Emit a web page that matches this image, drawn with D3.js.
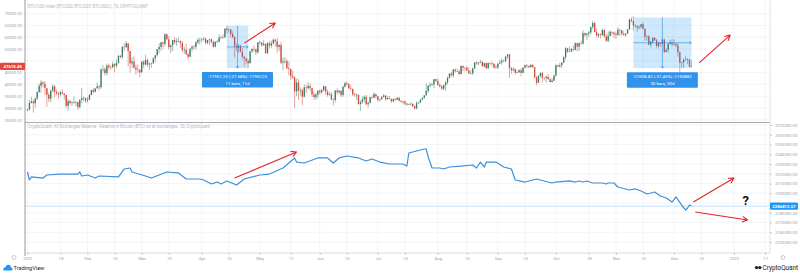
<!DOCTYPE html>
<html lang="en">
<head>
<meta charset="UTF-8">
<title>BTC price vs exchange reserve</title>
<style>
  body { margin: 0; background: #ffffff; }
  svg { display: block; font-family: Roboto, Arial, sans-serif; }
</style>
</head>
<body>
<svg id="chart" width="800" height="274"></svg>
<script src="https://d3js.org/d3.v7.min.js"></script>
<script>
  // daily candles from 2021-01-01, values in thousand USD (open = previous close)
  const candleStart = "2021-01-01";
  const firstOpen = 28.9;
  const closes = [
    29.4,32.1,32.8,32.0,34.0,36.8,39.4,40.8,40.3,38.4,35.6,33.9,37.3,39.2,36.8,36.2,35.8,36.6,36.0,35.5,30.9,32.9,32.1,32.3,32.3,32.5,30.4,33.4,34.3,34.3,33.1,
    33.5,35.5,37.6,36.9,38.3,39.2,38.8,46.4,46.4,44.8,48.0,47.3,47.2,48.6,47.9,49.1,52.1,51.6,55.9,55.8,57.4,54.1,48.9,49.7,47.1,46.3,46.1,45.1,
    49.6,48.4,50.3,48.4,48.8,48.9,51.0,52.4,54.9,55.9,57.8,57.2,61.2,59.1,55.8,56.6,58.8,57.9,58.3,58.3,57.5,54.5,54.7,52.8,51.7,55.1,56.0,55.9,57.8,58.9,58.9,
    59.1,59.4,57.6,58.8,59.1,58.0,56.0,58.1,58.1,59.8,60.0,59.9,63.6,63.0,63.2,61.3,60.0,56.2,55.6,56.4,53.8,51.7,51.1,50.0,49.0,54.0,55.0,54.8,53.6,57.8,
    57.8,56.6,57.2,53.2,57.5,56.4,57.4,58.9,58.3,55.9,56.7,49.2,49.7,49.9,46.8,46.5,43.5,42.9,37.0,40.8,37.3,37.5,34.8,38.7,38.4,39.3,38.4,35.7,34.6,35.7,37.3,
    36.7,37.6,39.2,36.9,35.5,35.8,33.6,33.4,37.4,36.7,37.3,35.5,39.0,40.5,40.1,38.3,38.1,35.8,35.5,35.6,31.7,32.5,33.7,34.7,31.6,32.2,34.6,34.4,35.9,35.0,
    33.5,33.8,34.7,35.3,33.7,34.2,33.9,32.9,33.8,33.5,34.3,33.1,32.7,32.8,31.9,31.4,31.5,31.8,30.8,29.8,32.1,32.3,33.6,34.3,35.4,37.2,39.5,40.0,40.0,42.2,41.5,
    39.8,39.1,38.2,39.7,40.9,42.8,44.6,43.8,46.3,45.6,45.5,44.4,47.8,47.1,47.0,45.9,44.7,44.7,46.8,49.3,48.9,49.3,49.5,47.7,49.0,46.9,49.1,48.9,48.8,47.0,47.2,
    48.8,49.3,50.0,49.9,51.8,52.7,46.9,46.0,46.4,44.9,45.2,46.0,44.9,47.1,48.1,47.7,47.3,48.3,47.3,43.0,40.7,43.6,44.9,42.8,42.7,43.2,42.2,41.0,41.6,43.8,
    48.1,47.6,48.2,49.2,51.5,55.3,53.8,54.0,55.0,54.7,57.5,56.0,57.4,57.3,61.7,60.9,61.5,62.0,64.3,66.0,62.2,60.7,61.3,60.9,63.1,60.3,58.5,60.6,62.3,61.9,61.3,
    60.9,63.2,62.9,61.4,60.9,61.5,63.3,67.5,66.9,64.9,64.8,64.1,64.4,65.5,63.6,60.2,60.4,56.9,58.1,59.7,58.7,56.3,57.6,57.2,59.0,53.7,54.7,57.3,57.8,57.0,
    57.2,56.5,53.6,49.2,49.4,50.4,50.6,50.5,47.5,47.6
  ];
  const highs = [
    29.6,33.3,34.8,33.6,34.4,36.9,40.4,41.9,41.4,41.4,38.3,36.6,37.8,40.1,39.7,37.9,36.9,37.3,37.9,36.4,35.6,33.8,33.5,32.9,34.9,32.9,32.6,33.8,38.5,34.9,34.3,
    34.7,35.9,37.7,38.7,38.3,40.9,39.7,46.8,48.2,47.3,48.6,48.9,48.1,49.7,49.0,50.6,52.6,52.5,56.4,57.5,58.4,57.5,54.2,51.4,52.0,48.4,48.4,46.6,
    49.8,50.2,52.6,51.0,49.4,49.2,51.5,52.4,54.9,57.4,58.1,58.0,61.8,61.6,60.6,56.9,58.9,60.0,59.5,59.9,58.6,58.4,55.8,57.2,53.2,55.5,56.6,56.6,58.4,59.4,59.8,
    59.5,60.0,59.8,58.9,59.3,59.5,58.7,58.2,58.9,61.2,60.7,61.2,63.8,64.9,63.8,63.6,62.5,60.4,57.5,57.1,56.8,55.4,52.1,51.2,50.6,54.4,55.5,56.4,55.2,57.9,
    58.5,57.9,58.9,57.2,57.9,58.4,58.6,59.5,59.3,59.6,56.9,58.0,51.4,51.6,50.7,49.8,46.6,45.8,43.5,42.5,42.2,38.8,38.3,39.9,39.8,40.9,40.4,38.0,37.2,36.4,37.5,
    37.9,38.2,39.5,39.3,37.9,36.8,36.8,34.1,37.5,38.4,37.7,37.4,39.4,41.1,41.3,40.5,39.6,38.2,36.5,36.1,35.7,33.3,34.9,35.3,35.5,32.7,34.7,35.3,36.7,36.0,
    35.0,33.9,35.0,35.9,35.3,35.0,35.1,33.9,34.1,34.3,34.6,34.7,33.3,33.1,33.2,32.2,31.9,32.4,31.9,31.0,32.9,32.6,33.6,34.5,35.4,40.6,39.5,40.9,40.6,42.3,42.3,
    42.6,40.4,39.7,39.9,41.4,43.4,44.7,45.3,46.5,46.7,46.8,46.2,48.1,48.0,47.4,48.0,47.2,46.0,47.1,49.4,49.8,49.5,50.5,49.9,49.2,49.4,49.2,49.3,49.7,48.9,48.3,
    48.9,50.4,51.0,50.6,51.9,52.9,52.9,47.4,47.3,47.0,45.9,46.5,46.9,47.3,48.5,48.5,48.2,48.8,48.4,47.3,43.6,44.0,45.0,45.2,42.8,43.9,44.4,42.8,42.6,44.1,
    48.5,48.3,49.2,49.5,51.9,55.8,55.4,56.1,55.5,56.5,57.8,57.7,57.8,58.5,62.9,62.0,61.7,62.7,64.5,67.0,66.6,63.7,61.7,61.5,63.7,63.3,61.5,62.5,62.9,62.3,62.4,
    62.4,64.3,63.5,63.1,62.6,61.6,63.3,67.8,68.5,69.0,65.6,65.0,65.0,65.5,66.4,63.6,60.8,60.9,58.4,59.9,60.0,59.3,58.0,57.8,59.4,59.3,55.3,57.4,58.9,59.2,
    59.1,57.4,57.6,53.9,49.7,51.0,51.9,51.2,50.8,50.1
  ];
  const lows = [
    28.8,29.0,32.0,28.1,30.2,33.4,36.3,36.5,38.7,35.6,30.4,32.5,32.4,36.7,34.4,35.4,33.9,34.8,35.8,33.4,30.1,28.9,31.4,30.9,31.9,30.8,29.2,29.8,31.9,32.8,32.2,
    32.3,33.4,35.4,36.2,36.6,38.2,37.4,38.1,45.0,43.7,43.9,46.3,46.2,47.0,45.0,47.0,48.9,50.9,50.7,54.0,55.5,47.6,45.0,47.0,46.7,44.1,45.0,43.0,
    45.0,47.0,48.1,47.5,46.3,47.1,48.9,49.3,51.8,53.1,54.3,55.0,56.1,58.9,54.7,53.3,54.1,57.0,56.3,57.8,55.5,53.7,53.0,52.5,50.4,51.7,53.9,54.7,54.9,57.1,56.9,
    57.9,58.5,57.0,57.0,56.8,57.3,55.5,55.7,57.6,57.9,59.3,59.4,59.8,61.3,62.0,60.0,59.6,51.3,54.2,53.4,53.6,50.6,47.5,48.8,47.0,48.8,53.3,53.9,52.3,53.1,
    57.0,56.0,56.5,53.0,52.9,55.2,55.5,56.9,56.2,53.4,54.2,48.6,46.0,48.8,46.6,43.8,42.0,42.3,30.0,35.0,33.5,35.3,31.1,34.4,36.4,37.8,37.2,34.7,33.6,33.4,34.2,
    35.7,36.0,37.2,35.6,34.8,35.3,33.3,31.0,32.4,35.8,35.9,34.6,34.8,38.7,39.5,38.1,37.4,35.1,34.8,33.3,31.3,28.8,31.7,32.3,31.3,30.2,32.0,33.9,34.2,34.0,
    32.7,32.7,33.3,34.5,33.1,33.5,33.8,32.1,32.3,33.0,33.3,32.7,32.2,31.6,31.1,31.0,31.2,31.1,30.4,29.3,29.5,31.7,32.0,33.4,33.9,35.2,36.4,38.8,39.3,38.3,41.1,
    39.4,38.7,37.6,37.5,37.3,39.9,42.4,43.3,42.8,45.0,45.3,43.8,44.2,45.6,45.5,45.7,44.4,44.2,43.9,46.6,48.3,48.1,49.0,47.6,47.2,46.3,46.4,48.4,47.8,46.9,46.7,
    46.5,48.6,48.4,49.5,49.4,50.9,42.8,44.4,45.5,44.2,44.8,44.7,43.4,44.8,46.7,47.0,46.8,47.1,47.0,42.5,39.6,40.6,43.1,40.7,41.7,40.8,42.1,40.9,40.8,41.4,
    43.3,47.4,47.1,46.9,49.1,50.4,53.4,53.6,53.7,54.1,54.4,54.0,54.2,56.8,56.9,60.1,58.9,60.1,61.3,63.5,62.0,60.0,59.7,59.5,60.7,59.8,58.0,57.8,60.2,60.7,59.5,
    59.4,60.6,60.4,60.7,60.7,60.0,61.4,63.1,66.2,62.8,64.1,62.3,63.3,63.6,63.4,58.6,58.4,56.5,55.6,57.4,58.5,55.6,55.3,55.9,57.0,53.3,53.7,53.3,56.7,55.9,
    56.5,55.8,51.7,42.0,47.1,47.0,50.0,48.6,47.3,47.3
  ];
  const priceTicks = [25000, 30000, 35000, 40000, 45000, 50000, 55000, 60000, 65000, 70000];
  const lastPrice = 47615.45;

  // all exchanges reserve (BTC), lower pane
  const reserveDates = [
    "2021-01-01","2021-01-02","2021-01-03","2021-01-09","2021-01-11","2021-01-18","2021-01-27","2021-01-28","2021-01-29",
    "2021-02-01","2021-02-05","2021-02-07","2021-02-17","2021-02-20","2021-02-23","2021-02-24",
    "2021-03-03","2021-03-06","2021-03-14","2021-03-20","2021-03-24","2021-03-31",
    "2021-04-02","2021-04-06","2021-04-09","2021-04-11","2021-04-14","2021-04-19","2021-04-23",
    "2021-05-01","2021-05-06","2021-05-13","2021-05-19","2021-05-20","2021-05-24","2021-05-31",
    "2021-06-05","2021-06-08","2021-06-11","2021-06-15","2021-06-21","2021-06-25","2021-06-28",
    "2021-07-02","2021-07-07","2021-07-14","2021-07-16","2021-07-17","2021-07-21","2021-07-25","2021-07-26","2021-07-27","2021-07-29",
    "2021-08-02","2021-08-04","2021-08-07","2021-08-13","2021-08-19","2021-08-21","2021-08-23","2021-08-25","2021-08-26","2021-08-31",
    "2021-09-04","2021-09-08","2021-09-10","2021-09-15","2021-09-21","2021-09-29",
    "2021-10-01","2021-10-08","2021-10-11","2021-10-13","2021-10-15","2021-10-17","2021-10-20","2021-10-25","2021-10-27","2021-10-28","2021-10-31",
    "2021-11-02","2021-11-06","2021-11-08","2021-11-11","2021-11-14","2021-11-17","2021-11-21","2021-11-24","2021-11-27","2021-11-30",
    "2021-12-02","2021-12-05","2021-12-07","2021-12-08","2021-12-09","2021-12-10"
  ];
  const reserveValues = [
    2321800,2313600,2316700,2315600,2318700,2319700,2319700,2321800,2317700,
    2318700,2315600,2317700,2316700,2324900,2325900,2321800,
    2317700,2315600,2321800,2320800,2314600,2314600,
    2313600,2309500,2311500,2309500,2312600,2308500,2314600,
    2318700,2319700,2325900,2336200,2332000,2331000,2336200,
    2336200,2331000,2336200,2338200,2336200,2333100,2335100,
    2332000,2330000,2330000,2327900,2341300,2343300,2345400,2345400,2337200,2325900,
    2325900,2324900,2326900,2327900,2329000,2325900,2332000,2326900,2332000,2332000,
    2326900,2324900,2313600,2311500,2314600,2310500,
    2311500,2312600,2311500,2312600,2311500,2312600,2310500,2310500,2309500,2310500,2310500,
    2306400,2304400,2303300,2304400,2302300,2299200,2301300,2297200,2295100,2291000,
    2296200,2287900,2282800,2284900,2288000,2286813.57
  ];
  const reserveTicks = [2250000, 2260000, 2270000, 2280000, 2290000, 2300000, 2310000,
                        2320000, 2330000, 2340000, 2350000, 2360000, 2370000];
  const lastReserve = 2286813.57;

  const timeTicks = ["2021-01-01","2021-01-18","2021-02-01","2021-02-15","2021-03-01","2021-03-15","2021-04-01","2021-04-15",
    "2021-05-01","2021-05-17","2021-06-01","2021-06-15","2021-07-01","2021-07-15","2021-08-01","2021-08-16",
    "2021-09-01","2021-09-15","2021-10-01","2021-10-18","2021-11-01","2021-11-15","2021-12-01","2021-12-15",
    "2022-01-01","2022-01-17"];
  const timeLabels = ["2021","18","Feb","15","Mar","15","Apr","15","May","17","Jun","15","Jul","15","Aug","16",
    "Sep","15","Oct","18","Nov","15","Dec","15","2022","17"];

  // measure tool boxes on the price pane
  const measureFrom = ["2021-04-14", "2021-11-10"];
  const measureTo = ["2021-04-25", "2021-12-10"];
  const measureHigh = [64854, 68390];
  const measureLow = [46903, 46881];
  const measureLine1 = ["-17951.23 (-27.68%) -1795123", "-21508.82 (-31.45%) -2150882"];
  const measureLine2 = ["11 bars, 11d", "30 bars, 30d"];

  // red hand-drawn arrows
  const arrowPane = ["price", "price", "reserve", "reserve", "reserve"];
  const arrowFromDate = ["2021-04-23", "2021-12-14", "2021-04-18", "2021-12-11", "2021-12-12"];
  const arrowFromValue = [57500, 49100, 2315600, 2291000, 2280800];
  const arrowToDate = ["2021-05-09", "2021-12-30", "2021-05-20", "2022-01-01", "2022-01-08"];
  const arrowToValue = [66000, 60900, 2342300, 2315600, 2272600];
  const questionDate = "2022-01-07";
  const questionValue = 2287500;

  const left = 25, right = 770, split = 122.5, bottom = 253;
  const svg = d3.select("#chart");

  const x = d3.scaleUtc()
    .domain([new Date("2021-01-01"), new Date("2022-01-01")])
    .range([27.5, 734]);
  const yPrice = d3.scaleLinear().domain([30000, 70000]).range([108, 13.6]);
  const yRes = d3.scaleLinear().domain([2290000, 2370000]).range([203, 125]);
  const fmt = d3.format(".2f");

  const defs = svg.append("defs");
  defs.append("clipPath").attr("id", "clipTop")
    .append("rect").attr("x", left).attr("y", 0).attr("width", right - left).attr("height", split);
  defs.append("clipPath").attr("id", "clipBottom")
    .append("rect").attr("x", left).attr("y", split).attr("width", right - left).attr("height", bottom - split);

  // grid
  const grid = svg.append("g").attr("stroke", "#eef0f4").attr("stroke-width", 0.7);
  timeTicks.forEach(d => {
    grid.append("line").attr("x1", x(new Date(d))).attr("x2", x(new Date(d)))
      .attr("y1", 0).attr("y2", bottom);
  });
  priceTicks.forEach(v => {
    grid.append("line").attr("x1", left).attr("x2", right).attr("y1", yPrice(v)).attr("y2", yPrice(v));
  });
  reserveTicks.forEach(v => {
    grid.append("line").attr("x1", left).attr("x2", right).attr("y1", yRes(v)).attr("y2", yRes(v));
  });

  // candles
  const start = new Date(candleStart);
  const candles = closes.map((c, i) => {
    const o = i === 0 ? firstOpen : closes[i - 1];
    return {
      date: d3.utcDay.offset(start, i), o: o * 1000, c: c * 1000,
      h: Math.max(highs[i], o, c) * 1000, l: Math.min(lows[i], o, c) * 1000
    };
  });
  const upColor = "#3a7d65", downColor = "#cf4a3f";
  const cg = svg.append("g").attr("clip-path", "url(#clipTop)");
  cg.selectAll("line.wick").data(candles).join("line")
    .attr("x1", d => x(d.date)).attr("x2", d => x(d.date))
    .attr("y1", d => yPrice(d.h)).attr("y2", d => yPrice(d.l))
    .attr("stroke", d => d.c >= d.o ? upColor : downColor).attr("stroke-width", 0.5);
  cg.selectAll("rect.body").data(candles).join("rect")
    .attr("x", d => x(d.date) - 0.65).attr("width", 1.3)
    .attr("y", d => yPrice(Math.max(d.o, d.c)))
    .attr("height", d => Math.max(0.5, Math.abs(yPrice(d.o) - yPrice(d.c))))
    .attr("fill", d => d.c >= d.o ? upColor : downColor);

  // measure boxes
  const mg = svg.append("g");
  measureFrom.forEach((d, i) => {
    const x0 = x(new Date(d)), x1 = x(new Date(measureTo[i]));
    const y0 = yPrice(measureHigh[i]), y1 = yPrice(measureLow[i]);
    const cx = (x0 + x1) / 2, cy = (y0 + y1) / 2;
    mg.append("rect").attr("x", x0).attr("y", y0).attr("width", x1 - x0).attr("height", y1 - y0)
      .attr("fill", "#2196f3").attr("fill-opacity", 0.22);
    const p = d3.path();
    p.moveTo(cx, y0); p.lineTo(cx, y1);
    p.moveTo(cx - 1.5, y1 - 2); p.lineTo(cx, y1); p.lineTo(cx + 1.5, y1 - 2);
    p.moveTo(x0, cy); p.lineTo(x1, cy);
    p.moveTo(x1 - 2, cy - 1.5); p.lineTo(x1, cy); p.lineTo(x1 - 2, cy + 1.5);
    mg.append("path").attr("d", p.toString()).attr("fill", "none")
      .attr("stroke", "#2a8ae6").attr("stroke-width", 0.6);
    const lw = 71, top = y1 + 4;
    mg.append("rect").attr("x", cx - lw / 2).attr("y", top).attr("width", lw).attr("height", 15.5)
      .attr("rx", 0.8).attr("fill", "#2f93ec");
    mg.append("text").attr("x", cx).attr("y", top + 6.2).attr("text-anchor", "middle")
      .attr("font-size", 4.4).attr("fill", "#fff").text(measureLine1[i]);
    mg.append("text").attr("x", cx).attr("y", top + 12.4).attr("text-anchor", "middle")
      .attr("font-size", 4.4).attr("fill", "#fff").text(measureLine2[i]);
  });

  // reserve line
  const lg = svg.append("g").attr("clip-path", "url(#clipBottom)");
  lg.append("line").attr("x1", left).attr("x2", right)
    .attr("y1", yRes(lastReserve)).attr("y2", yRes(lastReserve))
    .attr("stroke", "#a8d2f6").attr("stroke-width", 0.7);
  const line = d3.line().x((d, i) => x(new Date(reserveDates[i]))).y(d => yRes(d));
  lg.append("path").datum(reserveValues).attr("d", line).attr("fill", "none")
    .attr("stroke", "#3d8fdc").attr("stroke-width", 1.2).attr("stroke-linejoin", "round");

  // frame lines
  svg.append("line").attr("x1", left).attr("x2", right).attr("y1", split).attr("y2", split)
    .attr("stroke", "#a9acb3").attr("stroke-width", 1);
  svg.append("line").attr("x1", left).attr("x2", right).attr("y1", bottom).attr("y2", bottom)
    .attr("stroke", "#c9ccd2").attr("stroke-width", 0.7);
  svg.append("line").attr("x1", left).attr("x2", left).attr("y1", 0).attr("y2", bottom + 3)
    .attr("stroke", "#7b7e86").attr("stroke-width", 0.8);
  svg.append("line").attr("x1", right).attr("x2", right).attr("y1", 0).attr("y2", bottom)
    .attr("stroke", "#d3d5da").attr("stroke-width", 0.7);

  // axes (labels under a last-value badge are hidden, as on the original)
  const tickColor = "#9da1aa";
  const leftAxis = svg.append("g").attr("transform", `translate(${left - 3},0)`)
    .call(d3.axisLeft(yPrice).tickValues(priceTicks.filter(v => Math.abs(yPrice(v) - yPrice(lastPrice)) > 6))
      .tickFormat(fmt).tickSize(0).tickPadding(0));
  leftAxis.select(".domain").remove();
  leftAxis.selectAll("text").attr("font-size", 4.2).attr("fill", tickColor).attr("font-family", "Roboto, Arial, sans-serif");

  const rightAxis = svg.append("g").attr("transform", `translate(${right},0)`)
    .call(d3.axisRight(yRes).tickValues(reserveTicks).tickFormat(fmt).tickSize(2).tickPadding(3));
  rightAxis.select(".domain").remove();
  rightAxis.selectAll("line").attr("stroke", "#c4c7cd");
  rightAxis.selectAll("text").attr("font-size", 4.2).attr("fill", tickColor).attr("font-family", "Roboto, Arial, sans-serif");
  rightAxis.selectAll(".tick").filter(v => Math.abs(yRes(v) - yRes(lastReserve)) < 6).select("text").remove();

  const bottomAxis = svg.append("g").attr("transform", `translate(0,${bottom})`)
    .call(d3.axisBottom(x).tickValues(timeTicks.map(d => new Date(d)))
      .tickFormat((d, i) => timeLabels[i]).tickSize(1.5).tickPadding(2.5));
  bottomAxis.select(".domain").remove();
  bottomAxis.selectAll("line").attr("stroke", "#b5b8bf");
  bottomAxis.selectAll("text").attr("font-size", 4.2).attr("fill", tickColor).attr("font-family", "Roboto, Arial, sans-serif");

  // last value badges
  const yb = yPrice(lastPrice);
  svg.append("rect").attr("x", 0).attr("y", yb - 3.6).attr("width", left).attr("height", 7.2)
    .attr("rx", 1).attr("fill", "#e2493d");
  svg.append("text").attr("x", left - 3).attr("y", yb + 1.5).attr("text-anchor", "end")
    .attr("font-size", 4.3).attr("font-weight", "bold").attr("fill", "#fff").text(fmt(lastPrice));
  const yr = yRes(lastReserve);
  svg.append("rect").attr("x", right).attr("y", yr - 3.6).attr("width", 28).attr("height", 7.2)
    .attr("rx", 1).attr("fill", "#2196f3");
  svg.append("text").attr("x", right + 14).attr("y", yr + 1.5).attr("text-anchor", "middle")
    .attr("font-size", 4.3).attr("font-weight", "bold").attr("fill", "#fff").text(fmt(lastReserve));

  // pane titles
  svg.append("text").attr("x", 28).attr("y", 8).attr("font-size", 4.6).attr("fill", "#b4b7be")
    .attr("textLength", 120).attr("lengthAdjust", "spacingAndGlyphs")
    .text("BTC/USD Index (BTCUSD, BTCUSDT, BTCUSDC), 1D, CRYPTOQUANT");
  svg.append("text").attr("x", 28).attr("y", 128).attr("font-size", 4.6).attr("fill", "#b4b7be")
    .attr("textLength", 182).attr("lengthAdjust", "spacingAndGlyphs")
    .text("CryptoQuant: All Exchanges Reserve - Reserve in Bitcoin (BTC) on all exchanges, 1D, CryptoQuant");

  // red arrows
  const ag = svg.append("g");
  arrowPane.forEach((pane, i) => {
    const ys = pane === "price" ? yPrice : yRes;
    const x0 = x(new Date(arrowFromDate[i])), y0 = ys(arrowFromValue[i]);
    const x1 = x(new Date(arrowToDate[i])), y1 = ys(arrowToValue[i]);
    const a = Math.atan2(y1 - y0, x1 - x0), L = 6, s = 0.5;
    const p = d3.path();
    p.moveTo(x0, y0); p.lineTo(x1, y1);
    p.moveTo(x1 - L * Math.cos(a - s), y1 - L * Math.sin(a - s));
    p.lineTo(x1, y1);
    p.lineTo(x1 - L * Math.cos(a + s), y1 - L * Math.sin(a + s));
    ag.append("path").attr("d", p.toString()).attr("fill", "none")
      .attr("stroke", "#e5222b").attr("stroke-width", 1.1).attr("stroke-linejoin", "round");
  });
  svg.append("text").attr("x", x(new Date(questionDate))).attr("y", yRes(questionValue))
    .attr("text-anchor", "middle").attr("font-size", 13).attr("font-weight", "bold")
    .attr("fill", "#111").text("?");

  // small settings icons
  [[14, 257.5], [783, 257.5]].forEach(([cx, cy]) => {
    svg.append("circle").attr("cx", cx).attr("cy", cy).attr("r", 2).attr("fill", "none")
      .attr("stroke", "#a3a6ad").attr("stroke-width", 0.6);
  });

  // logos
  const tv = svg.append("g");
  tv.append("path").attr("fill", "#2196f3")
    .attr("d", "M3.5,270.5 L11.5,270.5 Q12.8,270.5 12.6,268.8 Q12.3,267.4 11,267.5 Q10.8,264.6 8,264.8 Q5.8,265 5.5,267.2 Q3.3,267.3 3.3,269 Q3.3,270.5 3.5,270.5 Z");
  tv.append("text").attr("x", 13.5).attr("y", 270.3).attr("font-size", 5.6).attr("fill", "#1e222d")
    .text("TradingView");
  const cq = svg.append("g");
  cq.append("circle").attr("cx", 756.5).attr("cy", 267.6).attr("r", 1.7).attr("fill", "#222");
  cq.append("circle").attr("cx", 759.8).attr("cy", 267.6).attr("r", 1.7).attr("fill", "#222");
  cq.append("text").attr("x", 762.5).attr("y", 270).attr("font-size", 6.4).attr("fill", "#222")
    .text("CryptoQuant");
</script>
</body>
</html>
